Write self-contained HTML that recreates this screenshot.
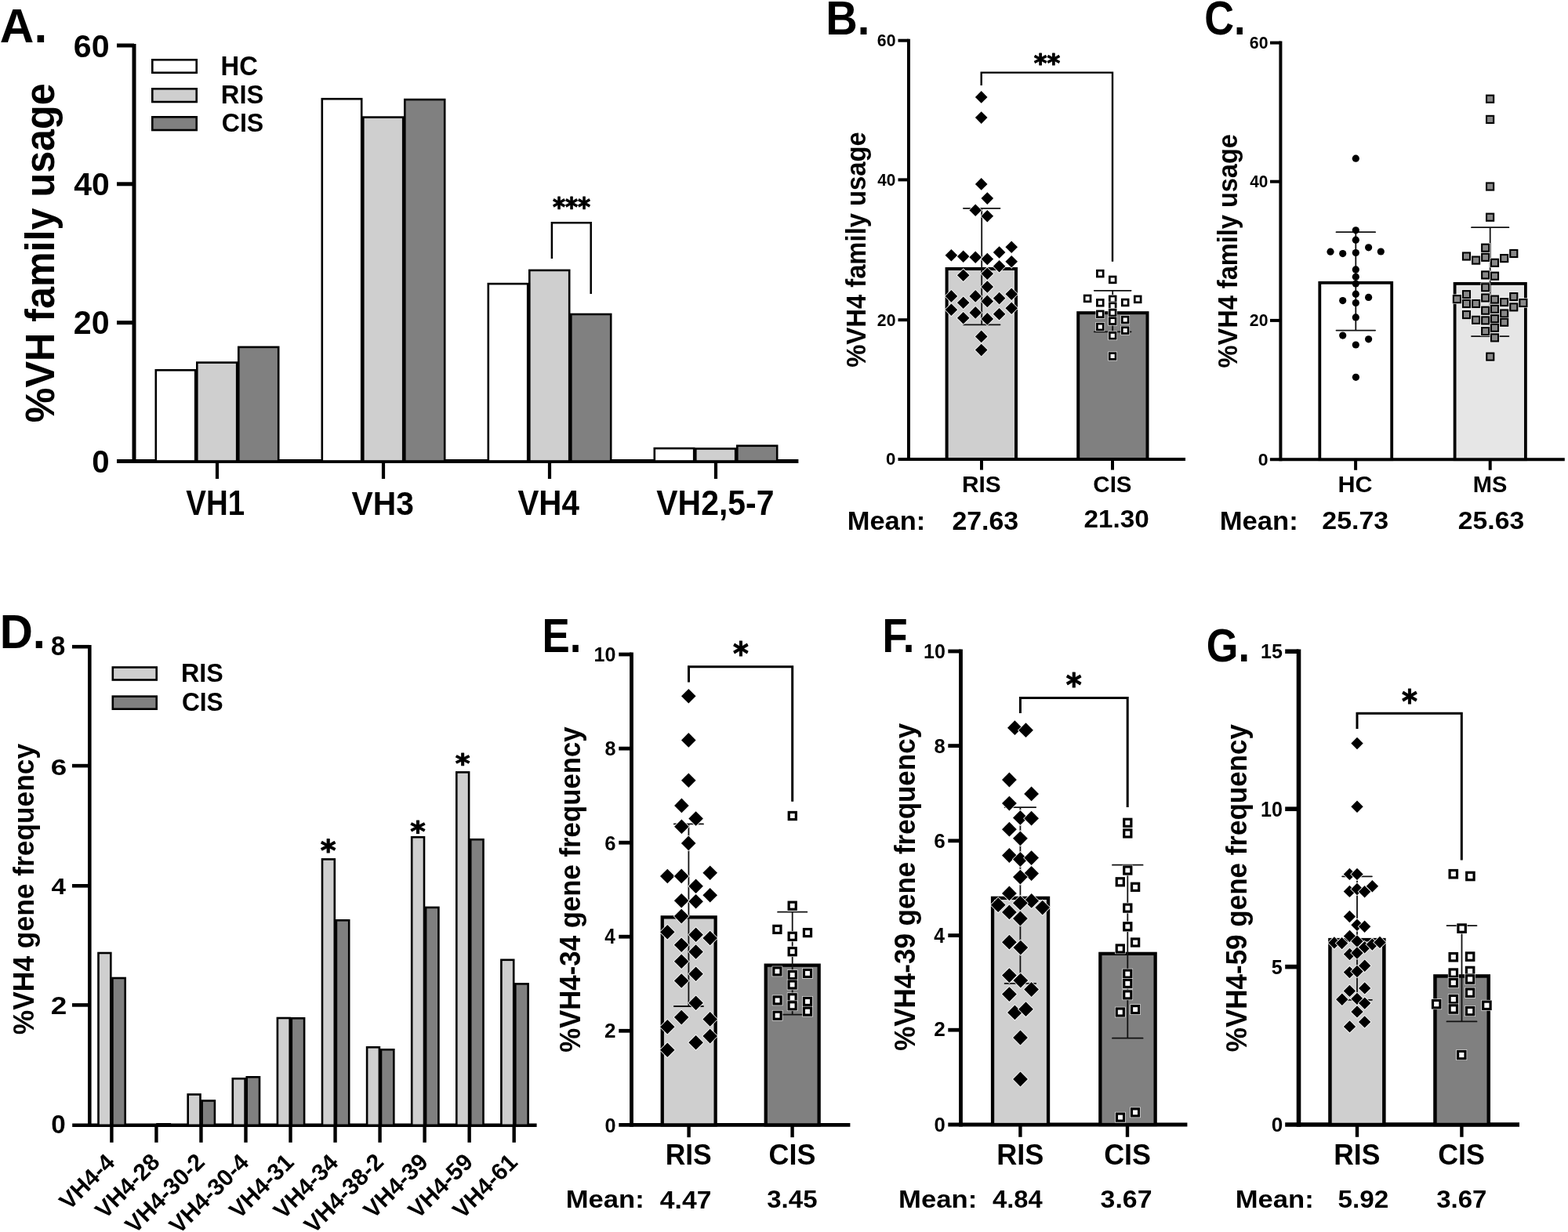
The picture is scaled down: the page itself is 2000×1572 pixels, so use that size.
<!DOCTYPE html>
<html><head><meta charset="utf-8"><title>VH4 family usage figure</title>
<style>
html,body{margin:0;padding:0;background:#fff;}
svg{display:block;}
text{font-family:'Liberation Sans',Arial,sans-serif;font-weight:bold;}
</style></head>
<body>
<svg xmlns="http://www.w3.org/2000/svg" width="2000" height="1572" viewBox="0 0 2000 1572">
<rect x="0" y="0" width="2000" height="1572" fill="#fff"/>
<line x1="171.00" y1="56.00" x2="171.00" y2="590.70" stroke="#000" stroke-width="5.00" stroke-linecap="butt"/>
<line x1="149.00" y1="58.00" x2="171.00" y2="58.00" stroke="#000" stroke-width="5.00" stroke-linecap="butt"/>
<line x1="149.00" y1="234.80" x2="171.00" y2="234.80" stroke="#000" stroke-width="5.00" stroke-linecap="butt"/>
<line x1="149.00" y1="411.70" x2="171.00" y2="411.70" stroke="#000" stroke-width="5.00" stroke-linecap="butt"/>
<line x1="149.00" y1="588.50" x2="1018.40" y2="588.50" stroke="#000" stroke-width="5.00" stroke-linecap="butt"/>
<line x1="277.00" y1="588.50" x2="277.00" y2="611.00" stroke="#000" stroke-width="4.20" stroke-linecap="butt"/>
<line x1="489.00" y1="588.50" x2="489.00" y2="611.00" stroke="#000" stroke-width="4.20" stroke-linecap="butt"/>
<line x1="701.00" y1="588.50" x2="701.00" y2="611.00" stroke="#000" stroke-width="4.20" stroke-linecap="butt"/>
<line x1="913.00" y1="588.50" x2="913.00" y2="611.00" stroke="#000" stroke-width="4.20" stroke-linecap="butt"/>
<rect x="198.80" y="472.30" width="50.40" height="116.20" fill="#fff" stroke="#000" stroke-width="2.60"/>
<rect x="251.30" y="462.60" width="50.90" height="125.90" fill="#cfcfcf" stroke="#000" stroke-width="2.60"/>
<rect x="304.30" y="442.90" width="50.90" height="145.60" fill="#808080" stroke="#000" stroke-width="2.60"/>
<rect x="410.80" y="126.20" width="50.40" height="462.30" fill="#fff" stroke="#000" stroke-width="2.60"/>
<rect x="463.30" y="149.60" width="50.90" height="438.90" fill="#cfcfcf" stroke="#000" stroke-width="2.60"/>
<rect x="516.30" y="127.05" width="50.90" height="461.45" fill="#808080" stroke="#000" stroke-width="2.60"/>
<rect x="622.80" y="362.10" width="50.40" height="226.40" fill="#fff" stroke="#000" stroke-width="2.60"/>
<rect x="675.30" y="344.90" width="50.90" height="243.60" fill="#cfcfcf" stroke="#000" stroke-width="2.60"/>
<rect x="728.30" y="401.00" width="50.90" height="187.50" fill="#808080" stroke="#000" stroke-width="2.60"/>
<rect x="834.80" y="572.10" width="50.40" height="16.40" fill="#fff" stroke="#000" stroke-width="2.60"/>
<rect x="887.30" y="572.50" width="50.90" height="16.00" fill="#cfcfcf" stroke="#000" stroke-width="2.60"/>
<rect x="940.30" y="568.80" width="50.90" height="19.70" fill="#808080" stroke="#000" stroke-width="2.60"/>
<rect x="194.30" y="76.30" width="56.40" height="16.45" fill="#fff" stroke="#000" stroke-width="2.60"/>
<rect x="194.30" y="113.30" width="56.40" height="16.70" fill="#cfcfcf" stroke="#000" stroke-width="2.60"/>
<rect x="194.30" y="149.30" width="56.40" height="16.70" fill="#808080" stroke="#000" stroke-width="2.60"/>
<text x="281.56" y="95.66" font-size="34.60" textLength="47.34" lengthAdjust="spacingAndGlyphs" fill="#000">HC</text>
<text x="281.81" y="132.17" font-size="33.54" textLength="54.46" lengthAdjust="spacingAndGlyphs" fill="#000">RIS</text>
<text x="282.68" y="168.42" font-size="33.54" textLength="53.57" lengthAdjust="spacingAndGlyphs" fill="#000">CIS</text>
<path d="M703.9 329.9 V284.3 H753.7 V375.1" fill="none" stroke="#000" stroke-width="2.50" stroke-linecap="butt" stroke-linejoin="miter"/>
<text style="font-family:'DejaVu Sans',sans-serif" stroke="#000" stroke-width="1.0" stroke-linejoin="round" x="704.98" y="275.55" font-size="34.03" textLength="48.23" lengthAdjust="spacingAndGlyphs" fill="#000">***</text>
<text x="93.89" y="72.60" font-size="40.96" textLength="45.80" lengthAdjust="spacingAndGlyphs" fill="#000">60</text>
<text x="94.18" y="248.99" font-size="41.52" textLength="45.50" lengthAdjust="spacingAndGlyphs" fill="#000">40</text>
<text x="93.87" y="426.09" font-size="41.67" textLength="45.82" lengthAdjust="spacingAndGlyphs" fill="#000">20</text>
<text x="117.31" y="602.60" font-size="40.96" textLength="22.34" lengthAdjust="spacingAndGlyphs" fill="#000">0</text>
<text x="237.24" y="657.00" font-size="43.61" textLength="74.83" lengthAdjust="spacingAndGlyphs" fill="#000">VH1</text>
<text x="448.52" y="657.02" font-size="42.99" textLength="79.35" lengthAdjust="spacingAndGlyphs" fill="#000">VH3</text>
<text x="660.42" y="657.00" font-size="43.61" textLength="78.49" lengthAdjust="spacingAndGlyphs" fill="#000">VH4</text>
<text x="837.32" y="657.00" font-size="44.04" textLength="150.08" lengthAdjust="spacingAndGlyphs" fill="#000">VH2,5-7</text>
<text transform="rotate(-90)" x="-539.25" y="69.40" font-size="51.00" textLength="432.97" lengthAdjust="spacingAndGlyphs" fill="#000">%VH family usage</text>
<text x="-0.20" y="54.00" font-size="61.05" textLength="60.36" lengthAdjust="spacingAndGlyphs" fill="#000">A.</text>
<line x1="1159.00" y1="49.70" x2="1159.00" y2="588.00" stroke="#000" stroke-width="4.00" stroke-linecap="butt"/>
<line x1="1145.50" y1="51.70" x2="1159.00" y2="51.70" stroke="#000" stroke-width="4.00" stroke-linecap="butt"/>
<line x1="1145.50" y1="229.40" x2="1159.00" y2="229.40" stroke="#000" stroke-width="4.00" stroke-linecap="butt"/>
<line x1="1145.50" y1="408.20" x2="1159.00" y2="408.20" stroke="#000" stroke-width="4.00" stroke-linecap="butt"/>
<line x1="1145.50" y1="586.00" x2="1512.00" y2="586.00" stroke="#000" stroke-width="4.00" stroke-linecap="butt"/>
<line x1="1252.00" y1="586.00" x2="1252.00" y2="599.60" stroke="#000" stroke-width="4.00" stroke-linecap="butt"/>
<line x1="1419.00" y1="586.00" x2="1419.00" y2="599.60" stroke="#000" stroke-width="4.00" stroke-linecap="butt"/>
<rect x="1207.60" y="343.00" width="88.40" height="243.00" fill="#cfcfcf" stroke="#000" stroke-width="4.00"/>
<rect x="1375.20" y="399.20" width="88.30" height="186.80" fill="#808080" stroke="#000" stroke-width="4.00"/>
<line x1="1252.20" y1="265.80" x2="1252.20" y2="414.30" stroke="#111" stroke-width="1.80" stroke-linecap="butt"/>
<line x1="1228.90" y1="265.80" x2="1275.50" y2="265.80" stroke="#111" stroke-width="1.80" stroke-linecap="round"/>
<line x1="1228.90" y1="414.30" x2="1275.50" y2="414.30" stroke="#111" stroke-width="1.80" stroke-linecap="round"/>
<polygon points="1251.70,116.10 1259.50,123.90 1251.70,131.70 1243.90,123.90" fill="#000" stroke="#fff" stroke-width="1.6" paint-order="stroke"/>
<polygon points="1251.70,142.30 1259.50,150.10 1251.70,157.90 1243.90,150.10" fill="#000" stroke="#fff" stroke-width="1.6" paint-order="stroke"/>
<polygon points="1251.70,227.10 1259.50,234.90 1251.70,242.70 1243.90,234.90" fill="#000" stroke="#fff" stroke-width="1.6" paint-order="stroke"/>
<polygon points="1259.30,245.30 1267.10,253.10 1259.30,260.90 1251.50,253.10" fill="#000" stroke="#fff" stroke-width="1.6" paint-order="stroke"/>
<polygon points="1244.20,260.40 1252.00,268.20 1244.20,276.00 1236.40,268.20" fill="#000" stroke="#fff" stroke-width="1.6" paint-order="stroke"/>
<polygon points="1259.30,267.90 1267.10,275.70 1259.30,283.50 1251.50,275.70" fill="#000" stroke="#fff" stroke-width="1.6" paint-order="stroke"/>
<polygon points="1213.40,318.00 1221.20,325.80 1213.40,333.60 1205.60,325.80" fill="#000" stroke="#fff" stroke-width="1.6" paint-order="stroke"/>
<polygon points="1228.70,319.40 1236.50,327.20 1228.70,335.00 1220.90,327.20" fill="#000" stroke="#fff" stroke-width="1.6" paint-order="stroke"/>
<polygon points="1244.20,320.50 1252.00,328.30 1244.20,336.10 1236.40,328.30" fill="#000" stroke="#fff" stroke-width="1.6" paint-order="stroke"/>
<polygon points="1259.30,322.70 1267.10,330.50 1259.30,338.30 1251.50,330.50" fill="#000" stroke="#fff" stroke-width="1.6" paint-order="stroke"/>
<polygon points="1274.60,314.20 1282.40,322.00 1274.60,329.80 1266.80,322.00" fill="#000" stroke="#fff" stroke-width="1.6" paint-order="stroke"/>
<polygon points="1290.20,307.50 1298.00,315.30 1290.20,323.10 1282.40,315.30" fill="#000" stroke="#fff" stroke-width="1.6" paint-order="stroke"/>
<polygon points="1290.20,326.00 1298.00,333.80 1290.20,341.60 1282.40,333.80" fill="#000" stroke="#fff" stroke-width="1.6" paint-order="stroke"/>
<polygon points="1274.60,332.00 1282.40,339.80 1274.60,347.60 1266.80,339.80" fill="#000" stroke="#fff" stroke-width="1.6" paint-order="stroke"/>
<polygon points="1228.70,343.40 1236.50,351.20 1228.70,359.00 1220.90,351.20" fill="#000" stroke="#fff" stroke-width="1.6" paint-order="stroke"/>
<polygon points="1259.30,341.50 1267.10,349.30 1259.30,357.10 1251.50,349.30" fill="#000" stroke="#fff" stroke-width="1.6" paint-order="stroke"/>
<polygon points="1259.30,358.20 1267.10,366.00 1259.30,373.80 1251.50,366.00" fill="#000" stroke="#fff" stroke-width="1.6" paint-order="stroke"/>
<polygon points="1213.40,370.10 1221.20,377.90 1213.40,385.70 1205.60,377.90" fill="#000" stroke="#fff" stroke-width="1.6" paint-order="stroke"/>
<polygon points="1244.20,370.10 1252.00,377.90 1244.20,385.70 1236.40,377.90" fill="#000" stroke="#fff" stroke-width="1.6" paint-order="stroke"/>
<polygon points="1274.60,372.80 1282.40,380.60 1274.60,388.40 1266.80,380.60" fill="#000" stroke="#fff" stroke-width="1.6" paint-order="stroke"/>
<polygon points="1290.20,367.50 1298.00,375.30 1290.20,383.10 1282.40,375.30" fill="#000" stroke="#fff" stroke-width="1.6" paint-order="stroke"/>
<polygon points="1228.70,378.40 1236.50,386.20 1228.70,394.00 1220.90,386.20" fill="#000" stroke="#fff" stroke-width="1.6" paint-order="stroke"/>
<polygon points="1259.30,376.60 1267.10,384.40 1259.30,392.20 1251.50,384.40" fill="#000" stroke="#fff" stroke-width="1.6" paint-order="stroke"/>
<polygon points="1213.40,387.50 1221.20,395.30 1213.40,403.10 1205.60,395.30" fill="#000" stroke="#fff" stroke-width="1.6" paint-order="stroke"/>
<polygon points="1244.20,391.10 1252.00,398.90 1244.20,406.70 1236.40,398.90" fill="#000" stroke="#fff" stroke-width="1.6" paint-order="stroke"/>
<polygon points="1274.60,393.00 1282.40,400.80 1274.60,408.60 1266.80,400.80" fill="#000" stroke="#fff" stroke-width="1.6" paint-order="stroke"/>
<polygon points="1290.20,385.40 1298.00,393.20 1290.20,401.00 1282.40,393.20" fill="#000" stroke="#fff" stroke-width="1.6" paint-order="stroke"/>
<polygon points="1228.70,398.00 1236.50,405.80 1228.70,413.60 1220.90,405.80" fill="#000" stroke="#fff" stroke-width="1.6" paint-order="stroke"/>
<polygon points="1259.30,399.10 1267.10,406.90 1259.30,414.70 1251.50,406.90" fill="#000" stroke="#fff" stroke-width="1.6" paint-order="stroke"/>
<polygon points="1251.70,421.60 1259.50,429.40 1251.70,437.20 1243.90,429.40" fill="#000" stroke="#fff" stroke-width="1.6" paint-order="stroke"/>
<polygon points="1251.70,438.80 1259.50,446.60 1251.70,454.40 1243.90,446.60" fill="#000" stroke="#fff" stroke-width="1.6" paint-order="stroke"/>
<line x1="1419.20" y1="370.80" x2="1419.20" y2="423.30" stroke="#111" stroke-width="1.80" stroke-linecap="butt"/>
<line x1="1395.80" y1="370.80" x2="1442.60" y2="370.80" stroke="#111" stroke-width="1.80" stroke-linecap="round"/>
<line x1="1395.80" y1="423.30" x2="1442.60" y2="423.30" stroke="#111" stroke-width="1.80" stroke-linecap="round"/>
<rect x="1397.45" y="343.25" width="11.70" height="11.70" fill="#fff"/>
<rect x="1399.40" y="345.20" width="7.80" height="7.80" fill="#fff" stroke="#000" stroke-width="2.70"/>
<rect x="1413.35" y="351.05" width="11.70" height="11.70" fill="#fff"/>
<rect x="1415.30" y="353.00" width="7.80" height="7.80" fill="#fff" stroke="#000" stroke-width="2.70"/>
<rect x="1381.25" y="375.05" width="11.70" height="11.70" fill="#fff"/>
<rect x="1383.20" y="377.00" width="7.80" height="7.80" fill="#fff" stroke="#000" stroke-width="2.70"/>
<rect x="1397.45" y="380.45" width="11.70" height="11.70" fill="#fff"/>
<rect x="1399.40" y="382.40" width="7.80" height="7.80" fill="#fff" stroke="#000" stroke-width="2.70"/>
<rect x="1413.35" y="376.05" width="11.70" height="11.70" fill="#fff"/>
<rect x="1415.30" y="378.00" width="7.80" height="7.80" fill="#fff" stroke="#000" stroke-width="2.70"/>
<rect x="1429.35" y="380.15" width="11.70" height="11.70" fill="#fff"/>
<rect x="1431.30" y="382.10" width="7.80" height="7.80" fill="#fff" stroke="#000" stroke-width="2.70"/>
<rect x="1445.35" y="376.05" width="11.70" height="11.70" fill="#fff"/>
<rect x="1447.30" y="378.00" width="7.80" height="7.80" fill="#fff" stroke="#000" stroke-width="2.70"/>
<rect x="1413.35" y="384.85" width="11.70" height="11.70" fill="#fff"/>
<rect x="1415.30" y="386.80" width="7.80" height="7.80" fill="#fff" stroke="#000" stroke-width="2.70"/>
<rect x="1413.35" y="393.25" width="11.70" height="11.70" fill="#fff"/>
<rect x="1415.30" y="395.20" width="7.80" height="7.80" fill="#fff" stroke="#000" stroke-width="2.70"/>
<rect x="1397.45" y="394.95" width="11.70" height="11.70" fill="#fff"/>
<rect x="1399.40" y="396.90" width="7.80" height="7.80" fill="#fff" stroke="#000" stroke-width="2.70"/>
<rect x="1413.35" y="403.75" width="11.70" height="11.70" fill="#fff"/>
<rect x="1415.30" y="405.70" width="7.80" height="7.80" fill="#fff" stroke="#000" stroke-width="2.70"/>
<rect x="1429.35" y="402.15" width="11.70" height="11.70" fill="#fff"/>
<rect x="1431.30" y="404.10" width="7.80" height="7.80" fill="#fff" stroke="#000" stroke-width="2.70"/>
<rect x="1397.45" y="411.15" width="11.70" height="11.70" fill="#fff"/>
<rect x="1399.40" y="413.10" width="7.80" height="7.80" fill="#fff" stroke="#000" stroke-width="2.70"/>
<rect x="1429.35" y="415.75" width="11.70" height="11.70" fill="#fff"/>
<rect x="1431.30" y="417.70" width="7.80" height="7.80" fill="#fff" stroke="#000" stroke-width="2.70"/>
<rect x="1413.35" y="422.45" width="11.70" height="11.70" fill="#fff"/>
<rect x="1415.30" y="424.40" width="7.80" height="7.80" fill="#fff" stroke="#000" stroke-width="2.70"/>
<rect x="1413.25" y="448.65" width="11.70" height="11.70" fill="#fff"/>
<rect x="1415.20" y="450.60" width="7.80" height="7.80" fill="#fff" stroke="#000" stroke-width="2.70"/>
<path d="M1251.7 109 V92.6 H1419 V333.8" fill="none" stroke="#000" stroke-width="2.40" stroke-linecap="butt" stroke-linejoin="miter"/>
<text style="font-family:'DejaVu Sans',sans-serif" stroke="#000" stroke-width="1.0" stroke-linejoin="round" x="1318.76" y="90.51" font-size="32.09" textLength="33.48" lengthAdjust="spacingAndGlyphs" fill="#000">**</text>
<text x="1118.82" y="59.09" font-size="21.75" textLength="23.65" lengthAdjust="spacingAndGlyphs" fill="#000">60</text>
<text x="1119.28" y="236.79" font-size="21.75" textLength="23.17" lengthAdjust="spacingAndGlyphs" fill="#000">40</text>
<text x="1118.86" y="415.59" font-size="21.75" textLength="23.61" lengthAdjust="spacingAndGlyphs" fill="#000">20</text>
<text x="1130.12" y="593.39" font-size="21.75" textLength="12.40" lengthAdjust="spacingAndGlyphs" fill="#000">0</text>
<text x="1227.00" y="628.12" font-size="28.81" textLength="49.76" lengthAdjust="spacingAndGlyphs" fill="#000">RIS</text>
<text x="1394.39" y="628.12" font-size="28.81" textLength="49.16" lengthAdjust="spacingAndGlyphs" fill="#000">CIS</text>
<text x="1080.69" y="675.68" font-size="32.96" textLength="99.62" lengthAdjust="spacingAndGlyphs" fill="#000">Mean:</text>
<text x="1214.43" y="675.64" font-size="32.42" textLength="84.80" lengthAdjust="spacingAndGlyphs" fill="#000">27.63</text>
<text x="1382.45" y="673.26" font-size="30.45" textLength="83.32" lengthAdjust="spacingAndGlyphs" fill="#000">21.30</text>
<text transform="rotate(-90)" x="-468.82" y="1103.50" font-size="35.00" textLength="300.64" lengthAdjust="spacingAndGlyphs" fill="#000">%VH4 family usage</text>
<text x="1053.25" y="43.70" font-size="60.90" textLength="56.12" lengthAdjust="spacingAndGlyphs" fill="#000">B.</text>
<line x1="1633.40" y1="52.60" x2="1633.40" y2="588.20" stroke="#000" stroke-width="4.00" stroke-linecap="butt"/>
<line x1="1620.00" y1="54.60" x2="1633.40" y2="54.60" stroke="#000" stroke-width="4.00" stroke-linecap="butt"/>
<line x1="1620.00" y1="231.70" x2="1633.40" y2="231.70" stroke="#000" stroke-width="4.00" stroke-linecap="butt"/>
<line x1="1620.00" y1="408.90" x2="1633.40" y2="408.90" stroke="#000" stroke-width="4.00" stroke-linecap="butt"/>
<line x1="1619.90" y1="586.20" x2="1995.80" y2="586.20" stroke="#000" stroke-width="4.00" stroke-linecap="butt"/>
<line x1="1729.10" y1="586.20" x2="1729.10" y2="599.80" stroke="#000" stroke-width="4.00" stroke-linecap="butt"/>
<line x1="1900.70" y1="586.20" x2="1900.70" y2="599.80" stroke="#000" stroke-width="4.00" stroke-linecap="butt"/>
<rect x="1683.30" y="360.80" width="91.90" height="225.40" fill="#fff" stroke="#000" stroke-width="3.80"/>
<rect x="1855.60" y="361.90" width="90.30" height="224.30" fill="#e6e6e6" stroke="#000" stroke-width="3.80"/>
<line x1="1729.30" y1="296.20" x2="1729.30" y2="421.60" stroke="#111" stroke-width="1.80" stroke-linecap="butt"/>
<line x1="1704.50" y1="296.20" x2="1754.10" y2="296.20" stroke="#111" stroke-width="1.80" stroke-linecap="round"/>
<line x1="1704.50" y1="421.60" x2="1754.10" y2="421.60" stroke="#111" stroke-width="1.80" stroke-linecap="round"/>
<circle cx="1729.30" cy="202.20" r="4.60" fill="#000"/>
<circle cx="1729.30" cy="293.80" r="4.60" fill="#000"/>
<circle cx="1729.30" cy="306.20" r="4.60" fill="#000"/>
<circle cx="1697.00" cy="321.20" r="4.60" fill="#000"/>
<circle cx="1712.70" cy="323.60" r="4.60" fill="#000"/>
<circle cx="1729.30" cy="322.50" r="4.60" fill="#000"/>
<circle cx="1745.60" cy="315.80" r="4.60" fill="#000"/>
<circle cx="1761.30" cy="321.00" r="4.60" fill="#000"/>
<circle cx="1729.30" cy="343.90" r="4.60" fill="#000"/>
<circle cx="1729.30" cy="353.20" r="4.60" fill="#000"/>
<circle cx="1729.30" cy="362.00" r="4.60" fill="#000"/>
<circle cx="1729.30" cy="375.20" r="4.60" fill="#000"/>
<circle cx="1745.60" cy="379.40" r="4.60" fill="#000"/>
<circle cx="1712.70" cy="383.60" r="4.60" fill="#000"/>
<circle cx="1729.30" cy="386.50" r="4.60" fill="#000"/>
<circle cx="1729.30" cy="404.90" r="4.60" fill="#000"/>
<circle cx="1712.70" cy="428.10" r="4.60" fill="#000"/>
<circle cx="1745.60" cy="432.80" r="4.60" fill="#000"/>
<circle cx="1729.30" cy="440.00" r="4.60" fill="#000"/>
<circle cx="1729.40" cy="481.30" r="4.60" fill="#000"/>
<line x1="1900.70" y1="290.20" x2="1900.70" y2="429.10" stroke="#111" stroke-width="1.80" stroke-linecap="butt"/>
<line x1="1877.00" y1="290.20" x2="1924.40" y2="290.20" stroke="#111" stroke-width="1.80" stroke-linecap="round"/>
<line x1="1877.00" y1="429.10" x2="1924.40" y2="429.10" stroke="#111" stroke-width="1.80" stroke-linecap="round"/>
<rect x="1894.40" y="120.00" width="12.40" height="12.40" fill="#fff"/>
<rect x="1896.05" y="121.65" width="9.10" height="9.10" fill="#888888" stroke="#000" stroke-width="2.10"/>
<rect x="1894.40" y="146.20" width="12.40" height="12.40" fill="#fff"/>
<rect x="1896.05" y="147.85" width="9.10" height="9.10" fill="#888888" stroke="#000" stroke-width="2.10"/>
<rect x="1894.40" y="231.80" width="12.40" height="12.40" fill="#fff"/>
<rect x="1896.05" y="233.45" width="9.10" height="9.10" fill="#888888" stroke="#000" stroke-width="2.10"/>
<rect x="1894.40" y="271.00" width="12.40" height="12.40" fill="#fff"/>
<rect x="1896.05" y="272.65" width="9.10" height="9.10" fill="#888888" stroke="#000" stroke-width="2.10"/>
<rect x="1888.50" y="310.00" width="12.40" height="12.40" fill="#fff"/>
<rect x="1890.15" y="311.65" width="9.10" height="9.10" fill="#888888" stroke="#000" stroke-width="2.10"/>
<rect x="1864.30" y="320.80" width="12.40" height="12.40" fill="#fff"/>
<rect x="1865.95" y="322.45" width="9.10" height="9.10" fill="#888888" stroke="#000" stroke-width="2.10"/>
<rect x="1876.40" y="325.90" width="12.40" height="12.40" fill="#fff"/>
<rect x="1878.05" y="327.55" width="9.10" height="9.10" fill="#888888" stroke="#000" stroke-width="2.10"/>
<rect x="1888.50" y="322.10" width="12.40" height="12.40" fill="#fff"/>
<rect x="1890.15" y="323.75" width="9.10" height="9.10" fill="#888888" stroke="#000" stroke-width="2.10"/>
<rect x="1900.30" y="329.10" width="12.40" height="12.40" fill="#fff"/>
<rect x="1901.95" y="330.75" width="9.10" height="9.10" fill="#888888" stroke="#000" stroke-width="2.10"/>
<rect x="1912.50" y="323.40" width="12.40" height="12.40" fill="#fff"/>
<rect x="1914.15" y="325.05" width="9.10" height="9.10" fill="#888888" stroke="#000" stroke-width="2.10"/>
<rect x="1924.60" y="317.30" width="12.40" height="12.40" fill="#fff"/>
<rect x="1926.25" y="318.95" width="9.10" height="9.10" fill="#888888" stroke="#000" stroke-width="2.10"/>
<rect x="1888.50" y="344.70" width="12.40" height="12.40" fill="#fff"/>
<rect x="1890.15" y="346.35" width="9.10" height="9.10" fill="#888888" stroke="#000" stroke-width="2.10"/>
<rect x="1900.30" y="346.00" width="12.40" height="12.40" fill="#fff"/>
<rect x="1901.95" y="347.65" width="9.10" height="9.10" fill="#888888" stroke="#000" stroke-width="2.10"/>
<rect x="1888.50" y="360.60" width="12.40" height="12.40" fill="#fff"/>
<rect x="1890.15" y="362.25" width="9.10" height="9.10" fill="#888888" stroke="#000" stroke-width="2.10"/>
<rect x="1864.30" y="369.50" width="12.40" height="12.40" fill="#fff"/>
<rect x="1865.95" y="371.15" width="9.10" height="9.10" fill="#888888" stroke="#000" stroke-width="2.10"/>
<rect x="1852.20" y="375.50" width="12.40" height="12.40" fill="#fff"/>
<rect x="1853.85" y="377.15" width="9.10" height="9.10" fill="#888888" stroke="#000" stroke-width="2.10"/>
<rect x="1888.50" y="373.80" width="12.40" height="12.40" fill="#fff"/>
<rect x="1890.15" y="375.45" width="9.10" height="9.10" fill="#888888" stroke="#000" stroke-width="2.10"/>
<rect x="1900.30" y="375.90" width="12.40" height="12.40" fill="#fff"/>
<rect x="1901.95" y="377.55" width="9.10" height="9.10" fill="#888888" stroke="#000" stroke-width="2.10"/>
<rect x="1912.50" y="379.40" width="12.40" height="12.40" fill="#fff"/>
<rect x="1914.15" y="381.05" width="9.10" height="9.10" fill="#888888" stroke="#000" stroke-width="2.10"/>
<rect x="1924.60" y="372.40" width="12.40" height="12.40" fill="#fff"/>
<rect x="1926.25" y="374.05" width="9.10" height="9.10" fill="#888888" stroke="#000" stroke-width="2.10"/>
<rect x="1936.70" y="380.30" width="12.40" height="12.40" fill="#fff"/>
<rect x="1938.35" y="381.95" width="9.10" height="9.10" fill="#888888" stroke="#000" stroke-width="2.10"/>
<rect x="1864.30" y="381.30" width="12.40" height="12.40" fill="#fff"/>
<rect x="1865.95" y="382.95" width="9.10" height="9.10" fill="#888888" stroke="#000" stroke-width="2.10"/>
<rect x="1876.40" y="381.30" width="12.40" height="12.40" fill="#fff"/>
<rect x="1878.05" y="382.95" width="9.10" height="9.10" fill="#888888" stroke="#000" stroke-width="2.10"/>
<rect x="1924.60" y="385.70" width="12.40" height="12.40" fill="#fff"/>
<rect x="1926.25" y="387.35" width="9.10" height="9.10" fill="#888888" stroke="#000" stroke-width="2.10"/>
<rect x="1900.30" y="388.10" width="12.40" height="12.40" fill="#fff"/>
<rect x="1901.95" y="389.75" width="9.10" height="9.10" fill="#888888" stroke="#000" stroke-width="2.10"/>
<rect x="1888.50" y="390.00" width="12.40" height="12.40" fill="#fff"/>
<rect x="1890.15" y="391.65" width="9.10" height="9.10" fill="#888888" stroke="#000" stroke-width="2.10"/>
<rect x="1912.50" y="393.80" width="12.40" height="12.40" fill="#fff"/>
<rect x="1914.15" y="395.45" width="9.10" height="9.10" fill="#888888" stroke="#000" stroke-width="2.10"/>
<rect x="1864.30" y="395.40" width="12.40" height="12.40" fill="#fff"/>
<rect x="1865.95" y="397.05" width="9.10" height="9.10" fill="#888888" stroke="#000" stroke-width="2.10"/>
<rect x="1900.30" y="400.50" width="12.40" height="12.40" fill="#fff"/>
<rect x="1901.95" y="402.15" width="9.10" height="9.10" fill="#888888" stroke="#000" stroke-width="2.10"/>
<rect x="1876.40" y="402.10" width="12.40" height="12.40" fill="#fff"/>
<rect x="1878.05" y="403.75" width="9.10" height="9.10" fill="#888888" stroke="#000" stroke-width="2.10"/>
<rect x="1888.50" y="402.70" width="12.40" height="12.40" fill="#fff"/>
<rect x="1890.15" y="404.35" width="9.10" height="9.10" fill="#888888" stroke="#000" stroke-width="2.10"/>
<rect x="1912.50" y="405.00" width="12.40" height="12.40" fill="#fff"/>
<rect x="1914.15" y="406.65" width="9.10" height="9.10" fill="#888888" stroke="#000" stroke-width="2.10"/>
<rect x="1900.30" y="412.00" width="12.40" height="12.40" fill="#fff"/>
<rect x="1901.95" y="413.65" width="9.10" height="9.10" fill="#888888" stroke="#000" stroke-width="2.10"/>
<rect x="1888.50" y="416.40" width="12.40" height="12.40" fill="#fff"/>
<rect x="1890.15" y="418.05" width="9.10" height="9.10" fill="#888888" stroke="#000" stroke-width="2.10"/>
<rect x="1900.30" y="424.70" width="12.40" height="12.40" fill="#fff"/>
<rect x="1901.95" y="426.35" width="9.10" height="9.10" fill="#888888" stroke="#000" stroke-width="2.10"/>
<rect x="1894.60" y="448.90" width="12.40" height="12.40" fill="#fff"/>
<rect x="1896.25" y="450.55" width="9.10" height="9.10" fill="#888888" stroke="#000" stroke-width="2.10"/>
<text x="1593.82" y="62.09" font-size="21.75" textLength="23.65" lengthAdjust="spacingAndGlyphs" fill="#000">60</text>
<text x="1594.28" y="239.19" font-size="21.75" textLength="23.17" lengthAdjust="spacingAndGlyphs" fill="#000">40</text>
<text x="1593.86" y="416.39" font-size="21.75" textLength="23.61" lengthAdjust="spacingAndGlyphs" fill="#000">20</text>
<text x="1604.69" y="593.69" font-size="21.75" textLength="12.86" lengthAdjust="spacingAndGlyphs" fill="#000">0</text>
<text x="1706.46" y="628.30" font-size="30.23" textLength="44.08" lengthAdjust="spacingAndGlyphs" fill="#000">HC</text>
<text x="1878.76" y="628.30" font-size="30.23" textLength="43.58" lengthAdjust="spacingAndGlyphs" fill="#000">MS</text>
<text x="1555.68" y="675.68" font-size="32.96" textLength="100.05" lengthAdjust="spacingAndGlyphs" fill="#000">Mean:</text>
<text x="1686.32" y="675.05" font-size="31.01" textLength="84.90" lengthAdjust="spacingAndGlyphs" fill="#000">25.73</text>
<text x="1859.83" y="675.05" font-size="31.01" textLength="84.28" lengthAdjust="spacingAndGlyphs" fill="#000">25.63</text>
<text transform="rotate(-90)" x="-469.41" y="1578.30" font-size="35.00" textLength="298.32" lengthAdjust="spacingAndGlyphs" fill="#000">%VH4 family usage</text>
<text x="1536.25" y="43.70" font-size="61.02" textLength="52.35" lengthAdjust="spacingAndGlyphs" fill="#000">C.</text>
<line x1="114.30" y1="823.00" x2="114.30" y2="1438.00" stroke="#000" stroke-width="4.60" stroke-linecap="butt"/>
<line x1="92.00" y1="825.20" x2="114.30" y2="825.20" stroke="#000" stroke-width="4.60" stroke-linecap="butt"/>
<line x1="92.00" y1="977.10" x2="114.30" y2="977.10" stroke="#000" stroke-width="4.60" stroke-linecap="butt"/>
<line x1="92.00" y1="1130.30" x2="114.30" y2="1130.30" stroke="#000" stroke-width="4.60" stroke-linecap="butt"/>
<line x1="92.00" y1="1282.40" x2="114.30" y2="1282.40" stroke="#000" stroke-width="4.60" stroke-linecap="butt"/>
<line x1="92.20" y1="1435.80" x2="684.60" y2="1435.80" stroke="#000" stroke-width="4.60" stroke-linecap="butt"/>
<line x1="142.40" y1="1435.80" x2="142.40" y2="1457.80" stroke="#000" stroke-width="4.40" stroke-linecap="butt"/>
<line x1="199.43" y1="1435.80" x2="199.43" y2="1457.80" stroke="#000" stroke-width="4.40" stroke-linecap="butt"/>
<line x1="256.46" y1="1435.80" x2="256.46" y2="1457.80" stroke="#000" stroke-width="4.40" stroke-linecap="butt"/>
<line x1="313.49" y1="1435.80" x2="313.49" y2="1457.80" stroke="#000" stroke-width="4.40" stroke-linecap="butt"/>
<line x1="370.52" y1="1435.80" x2="370.52" y2="1457.80" stroke="#000" stroke-width="4.40" stroke-linecap="butt"/>
<line x1="427.55" y1="1435.80" x2="427.55" y2="1457.80" stroke="#000" stroke-width="4.40" stroke-linecap="butt"/>
<line x1="484.58" y1="1435.80" x2="484.58" y2="1457.80" stroke="#000" stroke-width="4.40" stroke-linecap="butt"/>
<line x1="541.61" y1="1435.80" x2="541.61" y2="1457.80" stroke="#000" stroke-width="4.40" stroke-linecap="butt"/>
<line x1="598.64" y1="1435.80" x2="598.64" y2="1457.80" stroke="#000" stroke-width="4.40" stroke-linecap="butt"/>
<line x1="655.67" y1="1435.80" x2="655.67" y2="1457.80" stroke="#000" stroke-width="4.40" stroke-linecap="butt"/>
<rect x="125.50" y="1216.00" width="15.80" height="219.80" fill="#cfcfcf" stroke="#000" stroke-width="2.60"/>
<rect x="143.40" y="1248.00" width="16.30" height="187.80" fill="#808080" stroke="#000" stroke-width="2.60"/>
<rect x="200.50" y="1434.30" width="16.30" height="1.50" fill="#808080" stroke="#000" stroke-width="2.60"/>
<rect x="239.70" y="1396.50" width="15.80" height="39.30" fill="#cfcfcf" stroke="#000" stroke-width="2.60"/>
<rect x="257.60" y="1404.50" width="16.30" height="31.30" fill="#808080" stroke="#000" stroke-width="2.60"/>
<rect x="296.80" y="1376.30" width="15.80" height="59.50" fill="#cfcfcf" stroke="#000" stroke-width="2.60"/>
<rect x="314.70" y="1374.30" width="16.30" height="61.50" fill="#808080" stroke="#000" stroke-width="2.60"/>
<rect x="353.90" y="1299.00" width="15.80" height="136.80" fill="#cfcfcf" stroke="#000" stroke-width="2.60"/>
<rect x="371.80" y="1299.30" width="16.30" height="136.50" fill="#808080" stroke="#000" stroke-width="2.60"/>
<rect x="411.00" y="1096.40" width="15.80" height="339.40" fill="#cfcfcf" stroke="#000" stroke-width="2.60"/>
<rect x="428.90" y="1174.30" width="16.30" height="261.50" fill="#808080" stroke="#000" stroke-width="2.60"/>
<rect x="468.10" y="1336.30" width="15.80" height="99.50" fill="#cfcfcf" stroke="#000" stroke-width="2.60"/>
<rect x="486.00" y="1339.30" width="16.30" height="96.50" fill="#808080" stroke="#000" stroke-width="2.60"/>
<rect x="525.20" y="1068.20" width="15.80" height="367.60" fill="#cfcfcf" stroke="#000" stroke-width="2.60"/>
<rect x="543.10" y="1157.90" width="16.30" height="277.90" fill="#808080" stroke="#000" stroke-width="2.60"/>
<rect x="582.30" y="985.40" width="15.80" height="450.40" fill="#cfcfcf" stroke="#000" stroke-width="2.60"/>
<rect x="600.20" y="1071.20" width="16.30" height="364.60" fill="#808080" stroke="#000" stroke-width="2.60"/>
<rect x="639.40" y="1224.80" width="15.80" height="211.00" fill="#cfcfcf" stroke="#000" stroke-width="2.60"/>
<rect x="657.30" y="1255.40" width="16.30" height="180.40" fill="#808080" stroke="#000" stroke-width="2.60"/>
<rect x="143.80" y="851.50" width="55.90" height="16.00" fill="#cfcfcf" stroke="#000" stroke-width="2.60"/>
<rect x="143.80" y="888.60" width="55.90" height="16.10" fill="#808080" stroke="#000" stroke-width="2.60"/>
<text x="231.04" y="870.17" font-size="33.47" textLength="53.71" lengthAdjust="spacingAndGlyphs" fill="#000">RIS</text>
<text x="231.90" y="907.27" font-size="33.33" textLength="52.84" lengthAdjust="spacingAndGlyphs" fill="#000">CIS</text>
<text style="font-family:'DejaVu Sans',sans-serif" stroke="#000" stroke-width="1.0" stroke-linejoin="round" x="408.74" y="1098.35" font-size="37.26" textLength="19.82" lengthAdjust="spacingAndGlyphs" fill="#000">*</text>
<text style="font-family:'DejaVu Sans',sans-serif" stroke="#000" stroke-width="1.0" stroke-linejoin="round" x="523.25" y="1072.99" font-size="35.96" textLength="19.49" lengthAdjust="spacingAndGlyphs" fill="#000">*</text>
<text style="font-family:'DejaVu Sans',sans-serif" stroke="#000" stroke-width="1.0" stroke-linejoin="round" x="580.68" y="986.37" font-size="34.46" textLength="18.84" lengthAdjust="spacingAndGlyphs" fill="#000">*</text>
<text x="64.96" y="836.26" font-size="34.75" textLength="18.25" lengthAdjust="spacingAndGlyphs" fill="#000">8</text>
<text x="64.65" y="988.71" font-size="29.38" textLength="20.48" lengthAdjust="spacingAndGlyphs" fill="#000">6</text>
<text x="65.50" y="1141.20" font-size="29.65" textLength="18.48" lengthAdjust="spacingAndGlyphs" fill="#000">4</text>
<text x="64.72" y="1293.90" font-size="31.08" textLength="20.56" lengthAdjust="spacingAndGlyphs" fill="#000">2</text>
<text x="65.39" y="1446.38" font-size="32.77" textLength="18.48" lengthAdjust="spacingAndGlyphs" fill="#000">0</text>
<text transform="rotate(-90)" x="-1320.18" y="43.10" font-size="37.00" textLength="371.37" lengthAdjust="spacingAndGlyphs" fill="#000">%VH4 gene frequency</text>
<text x="-0.30" y="827.30" font-size="61.48" textLength="58.32" lengthAdjust="spacingAndGlyphs" fill="#000">D.</text>
<text transform="translate(147.90,1485.20) rotate(-45)" x="-84.87" y="0" font-size="30">VH4-4</text>
<text transform="translate(204.93,1485.20) rotate(-45)" x="-100.80" y="0" font-size="30">VH4-28</text>
<text transform="translate(261.96,1485.20) rotate(-45)" x="-127.19" y="0" font-size="30">VH4-30-2</text>
<text transform="translate(318.99,1485.20) rotate(-45)" x="-128.23" y="0" font-size="30">VH4-30-4</text>
<text transform="translate(376.02,1485.20) rotate(-45)" x="-100.88" y="0" font-size="30">VH4-31</text>
<text transform="translate(433.05,1485.20) rotate(-45)" x="-101.56" y="0" font-size="30">VH4-34</text>
<text transform="translate(490.08,1485.20) rotate(-45)" x="-127.19" y="0" font-size="30">VH4-38-2</text>
<text transform="translate(547.11,1485.20) rotate(-45)" x="-100.61" y="0" font-size="30">VH4-39</text>
<text transform="translate(604.14,1485.20) rotate(-45)" x="-100.61" y="0" font-size="30">VH4-59</text>
<text transform="translate(661.17,1485.20) rotate(-45)" x="-100.88" y="0" font-size="30">VH4-61</text>
<line x1="805.50" y1="832.60" x2="805.50" y2="1437.80" stroke="#000" stroke-width="4.80" stroke-linecap="butt"/>
<line x1="789.30" y1="835.00" x2="805.50" y2="835.00" stroke="#000" stroke-width="4.80" stroke-linecap="butt"/>
<line x1="789.30" y1="955.10" x2="805.50" y2="955.10" stroke="#000" stroke-width="4.80" stroke-linecap="butt"/>
<line x1="789.30" y1="1075.20" x2="805.50" y2="1075.20" stroke="#000" stroke-width="4.80" stroke-linecap="butt"/>
<line x1="789.30" y1="1195.20" x2="805.50" y2="1195.20" stroke="#000" stroke-width="4.80" stroke-linecap="butt"/>
<line x1="789.30" y1="1315.30" x2="805.50" y2="1315.30" stroke="#000" stroke-width="4.80" stroke-linecap="butt"/>
<line x1="789.30" y1="1435.40" x2="1084.40" y2="1435.40" stroke="#000" stroke-width="4.80" stroke-linecap="butt"/>
<line x1="878.60" y1="1435.40" x2="878.60" y2="1451.20" stroke="#000" stroke-width="4.40" stroke-linecap="butt"/>
<line x1="1010.60" y1="1435.40" x2="1010.60" y2="1451.20" stroke="#000" stroke-width="4.40" stroke-linecap="butt"/>
<rect x="844.75" y="1170.35" width="67.90" height="265.05" fill="#cfcfcf" stroke="#000" stroke-width="4.30"/>
<rect x="976.75" y="1231.65" width="67.90" height="203.75" fill="#808080" stroke="#000" stroke-width="4.30"/>
<line x1="878.40" y1="1051.40" x2="878.40" y2="1284.00" stroke="#111" stroke-width="1.80" stroke-linecap="butt"/>
<line x1="859.80" y1="1051.40" x2="897.00" y2="1051.40" stroke="#111" stroke-width="1.80" stroke-linecap="round"/>
<line x1="859.80" y1="1284.00" x2="897.00" y2="1284.00" stroke="#111" stroke-width="1.80" stroke-linecap="round"/>
<polygon points="878.30,878.90 887.60,888.20 878.30,897.50 869.00,888.20" fill="#000" stroke="#fff" stroke-width="1.6" paint-order="stroke"/>
<polygon points="878.30,935.10 887.60,944.40 878.30,953.70 869.00,944.40" fill="#000" stroke="#fff" stroke-width="1.6" paint-order="stroke"/>
<polygon points="878.30,986.40 887.60,995.70 878.30,1005.00 869.00,995.70" fill="#000" stroke="#fff" stroke-width="1.6" paint-order="stroke"/>
<polygon points="869.40,1018.60 878.70,1027.90 869.40,1037.20 860.10,1027.90" fill="#000" stroke="#fff" stroke-width="1.6" paint-order="stroke"/>
<polygon points="887.60,1035.20 896.90,1044.50 887.60,1053.80 878.30,1044.50" fill="#000" stroke="#fff" stroke-width="1.6" paint-order="stroke"/>
<polygon points="869.40,1045.40 878.70,1054.70 869.40,1064.00 860.10,1054.70" fill="#000" stroke="#fff" stroke-width="1.6" paint-order="stroke"/>
<polygon points="878.20,1066.60 887.50,1075.90 878.20,1085.20 868.90,1075.90" fill="#000" stroke="#fff" stroke-width="1.6" paint-order="stroke"/>
<polygon points="851.30,1108.70 860.60,1118.00 851.30,1127.30 842.00,1118.00" fill="#000" stroke="#fff" stroke-width="1.6" paint-order="stroke"/>
<polygon points="869.20,1108.60 878.50,1117.90 869.20,1127.20 859.90,1117.90" fill="#000" stroke="#fff" stroke-width="1.6" paint-order="stroke"/>
<polygon points="905.70,1104.40 915.00,1113.70 905.70,1123.00 896.40,1113.70" fill="#000" stroke="#fff" stroke-width="1.6" paint-order="stroke"/>
<polygon points="887.60,1121.50 896.90,1130.80 887.60,1140.10 878.30,1130.80" fill="#000" stroke="#fff" stroke-width="1.6" paint-order="stroke"/>
<polygon points="905.70,1133.00 915.00,1142.30 905.70,1151.60 896.40,1142.30" fill="#000" stroke="#fff" stroke-width="1.6" paint-order="stroke"/>
<polygon points="869.20,1139.90 878.50,1149.20 869.20,1158.50 859.90,1149.20" fill="#000" stroke="#fff" stroke-width="1.6" paint-order="stroke"/>
<polygon points="887.60,1141.00 896.90,1150.30 887.60,1159.60 878.30,1150.30" fill="#000" stroke="#fff" stroke-width="1.6" paint-order="stroke"/>
<polygon points="869.20,1159.80 878.50,1169.10 869.20,1178.40 859.90,1169.10" fill="#000" stroke="#fff" stroke-width="1.6" paint-order="stroke"/>
<polygon points="851.30,1180.00 860.60,1189.30 851.30,1198.60 842.00,1189.30" fill="#000" stroke="#fff" stroke-width="1.6" paint-order="stroke"/>
<polygon points="887.60,1183.40 896.90,1192.70 887.60,1202.00 878.30,1192.70" fill="#000" stroke="#fff" stroke-width="1.6" paint-order="stroke"/>
<polygon points="905.70,1187.70 915.00,1197.00 905.70,1206.30 896.40,1197.00" fill="#000" stroke="#fff" stroke-width="1.6" paint-order="stroke"/>
<polygon points="869.20,1196.40 878.50,1205.70 869.20,1215.00 859.90,1205.70" fill="#000" stroke="#fff" stroke-width="1.6" paint-order="stroke"/>
<polygon points="887.60,1205.20 896.90,1214.50 887.60,1223.80 878.30,1214.50" fill="#000" stroke="#fff" stroke-width="1.6" paint-order="stroke"/>
<polygon points="869.20,1217.40 878.50,1226.70 869.20,1236.00 859.90,1226.70" fill="#000" stroke="#fff" stroke-width="1.6" paint-order="stroke"/>
<polygon points="887.60,1233.40 896.90,1242.70 887.60,1252.00 878.30,1242.70" fill="#000" stroke="#fff" stroke-width="1.6" paint-order="stroke"/>
<polygon points="869.20,1242.20 878.50,1251.50 869.20,1260.80 859.90,1251.50" fill="#000" stroke="#fff" stroke-width="1.6" paint-order="stroke"/>
<polygon points="887.60,1270.50 896.90,1279.80 887.60,1289.10 878.30,1279.80" fill="#000" stroke="#fff" stroke-width="1.6" paint-order="stroke"/>
<polygon points="869.20,1288.80 878.50,1298.10 869.20,1307.40 859.90,1298.10" fill="#000" stroke="#fff" stroke-width="1.6" paint-order="stroke"/>
<polygon points="905.70,1291.10 915.00,1300.40 905.70,1309.70 896.40,1300.40" fill="#000" stroke="#fff" stroke-width="1.6" paint-order="stroke"/>
<polygon points="851.30,1301.00 860.60,1310.30 851.30,1319.60 842.00,1310.30" fill="#000" stroke="#fff" stroke-width="1.6" paint-order="stroke"/>
<polygon points="905.70,1312.80 915.00,1322.10 905.70,1331.40 896.40,1322.10" fill="#000" stroke="#fff" stroke-width="1.6" paint-order="stroke"/>
<polygon points="887.60,1320.90 896.90,1330.20 887.60,1339.50 878.30,1330.20" fill="#000" stroke="#fff" stroke-width="1.6" paint-order="stroke"/>
<polygon points="851.30,1330.40 860.60,1339.70 851.30,1349.00 842.00,1339.70" fill="#000" stroke="#fff" stroke-width="1.6" paint-order="stroke"/>
<line x1="1010.70" y1="1163.70" x2="1010.70" y2="1294.70" stroke="#111" stroke-width="1.80" stroke-linecap="butt"/>
<line x1="992.10" y1="1163.70" x2="1029.30" y2="1163.70" stroke="#111" stroke-width="1.80" stroke-linecap="round"/>
<line x1="992.10" y1="1294.70" x2="1029.30" y2="1294.70" stroke="#111" stroke-width="1.80" stroke-linecap="round"/>
<rect x="1004.05" y="1034.25" width="13.50" height="13.50" fill="#fff"/>
<rect x="1006.25" y="1036.45" width="9.10" height="9.10" fill="#fff" stroke="#000" stroke-width="3.20"/>
<rect x="1003.95" y="1148.95" width="13.50" height="13.50" fill="#fff"/>
<rect x="1006.15" y="1151.15" width="9.10" height="9.10" fill="#fff" stroke="#000" stroke-width="3.20"/>
<rect x="984.65" y="1179.15" width="13.50" height="13.50" fill="#fff"/>
<rect x="986.85" y="1181.35" width="9.10" height="9.10" fill="#fff" stroke="#000" stroke-width="3.20"/>
<rect x="1023.25" y="1183.35" width="13.50" height="13.50" fill="#fff"/>
<rect x="1025.45" y="1185.55" width="9.10" height="9.10" fill="#fff" stroke="#000" stroke-width="3.20"/>
<rect x="1003.95" y="1188.05" width="13.50" height="13.50" fill="#fff"/>
<rect x="1006.15" y="1190.25" width="9.10" height="9.10" fill="#fff" stroke="#000" stroke-width="3.20"/>
<rect x="1003.95" y="1207.45" width="13.50" height="13.50" fill="#fff"/>
<rect x="1006.15" y="1209.65" width="9.10" height="9.10" fill="#fff" stroke="#000" stroke-width="3.20"/>
<rect x="984.65" y="1232.65" width="13.50" height="13.50" fill="#fff"/>
<rect x="986.85" y="1234.85" width="9.10" height="9.10" fill="#fff" stroke="#000" stroke-width="3.20"/>
<rect x="1003.95" y="1237.35" width="13.50" height="13.50" fill="#fff"/>
<rect x="1006.15" y="1239.55" width="9.10" height="9.10" fill="#fff" stroke="#000" stroke-width="3.20"/>
<rect x="1023.25" y="1235.15" width="13.50" height="13.50" fill="#fff"/>
<rect x="1025.45" y="1237.35" width="9.10" height="9.10" fill="#fff" stroke="#000" stroke-width="3.20"/>
<rect x="1003.85" y="1249.75" width="13.50" height="13.50" fill="#fff"/>
<rect x="1006.05" y="1251.95" width="9.10" height="9.10" fill="#fff" stroke="#000" stroke-width="3.20"/>
<rect x="984.85" y="1269.65" width="13.50" height="13.50" fill="#fff"/>
<rect x="987.05" y="1271.85" width="9.10" height="9.10" fill="#fff" stroke="#000" stroke-width="3.20"/>
<rect x="1003.85" y="1266.55" width="13.50" height="13.50" fill="#fff"/>
<rect x="1006.05" y="1268.75" width="9.10" height="9.10" fill="#fff" stroke="#000" stroke-width="3.20"/>
<rect x="1003.85" y="1276.55" width="13.50" height="13.50" fill="#fff"/>
<rect x="1006.05" y="1278.75" width="9.10" height="9.10" fill="#fff" stroke="#000" stroke-width="3.20"/>
<rect x="1023.25" y="1271.15" width="13.50" height="13.50" fill="#fff"/>
<rect x="1025.45" y="1273.35" width="9.10" height="9.10" fill="#fff" stroke="#000" stroke-width="3.20"/>
<rect x="1023.25" y="1283.85" width="13.50" height="13.50" fill="#fff"/>
<rect x="1025.45" y="1286.05" width="9.10" height="9.10" fill="#fff" stroke="#000" stroke-width="3.20"/>
<rect x="984.85" y="1288.95" width="13.50" height="13.50" fill="#fff"/>
<rect x="987.05" y="1291.15" width="9.10" height="9.10" fill="#fff" stroke="#000" stroke-width="3.20"/>
<path d="M878.5 870.4 V850.8 H1010.7 V1022.7" fill="none" stroke="#000" stroke-width="3.00" stroke-linecap="butt" stroke-linejoin="miter"/>
<text style="font-family:'DejaVu Sans',sans-serif" stroke="#000" stroke-width="1.0" stroke-linejoin="round" x="934.94" y="848.19" font-size="40.27" textLength="19.82" lengthAdjust="spacingAndGlyphs" fill="#000">*</text>
<text x="757.62" y="843.75" font-size="25.85" textLength="27.91" lengthAdjust="spacingAndGlyphs" fill="#000">10</text>
<text x="771.40" y="963.75" font-size="25.85" textLength="13.97" lengthAdjust="spacingAndGlyphs" fill="#000">8</text>
<text x="771.26" y="1085.44" font-size="26.41" textLength="14.27" lengthAdjust="spacingAndGlyphs" fill="#000">6</text>
<text x="771.23" y="1204.00" font-size="26.74" textLength="13.50" lengthAdjust="spacingAndGlyphs" fill="#000">4</text>
<text x="771.00" y="1324.40" font-size="25.64" textLength="14.44" lengthAdjust="spacingAndGlyphs" fill="#000">2</text>
<text x="771.60" y="1444.54" font-size="26.13" textLength="14.03" lengthAdjust="spacingAndGlyphs" fill="#000">0</text>
<text x="848.63" y="1485.64" font-size="37.29" textLength="59.16" lengthAdjust="spacingAndGlyphs" fill="#000">RIS</text>
<text x="980.53" y="1485.64" font-size="37.29" textLength="59.88" lengthAdjust="spacingAndGlyphs" fill="#000">CIS</text>
<text x="721.68" y="1541.29" font-size="31.53" textLength="100.05" lengthAdjust="spacingAndGlyphs" fill="#000">Mean:</text>
<text x="841.89" y="1541.60" font-size="31.98" textLength="65.59" lengthAdjust="spacingAndGlyphs" fill="#000">4.47</text>
<text x="978.24" y="1541.25" font-size="31.01" textLength="64.28" lengthAdjust="spacingAndGlyphs" fill="#000">3.45</text>
<text x="691.46" y="831.80" font-size="61.92" textLength="49.98" lengthAdjust="spacingAndGlyphs" fill="#000">E.</text>
<text transform="rotate(-90)" x="-1342.87" y="740.30" font-size="37.00" textLength="415.55" lengthAdjust="spacingAndGlyphs" fill="#000">%VH4-34 gene frequency</text>
<line x1="1225.50" y1="828.60" x2="1225.50" y2="1437.40" stroke="#000" stroke-width="4.80" stroke-linecap="butt"/>
<line x1="1209.30" y1="831.00" x2="1225.50" y2="831.00" stroke="#000" stroke-width="4.80" stroke-linecap="butt"/>
<line x1="1209.30" y1="951.60" x2="1225.50" y2="951.60" stroke="#000" stroke-width="4.80" stroke-linecap="butt"/>
<line x1="1209.30" y1="1072.80" x2="1225.50" y2="1072.80" stroke="#000" stroke-width="4.80" stroke-linecap="butt"/>
<line x1="1209.30" y1="1193.60" x2="1225.50" y2="1193.60" stroke="#000" stroke-width="4.80" stroke-linecap="butt"/>
<line x1="1209.30" y1="1314.20" x2="1225.50" y2="1314.20" stroke="#000" stroke-width="4.80" stroke-linecap="butt"/>
<line x1="1209.30" y1="1435.00" x2="1514.40" y2="1435.00" stroke="#000" stroke-width="4.80" stroke-linecap="butt"/>
<line x1="1301.40" y1="1435.00" x2="1301.40" y2="1450.80" stroke="#000" stroke-width="4.40" stroke-linecap="butt"/>
<line x1="1438.00" y1="1435.00" x2="1438.00" y2="1450.80" stroke="#000" stroke-width="4.40" stroke-linecap="butt"/>
<rect x="1266.05" y="1145.85" width="71.00" height="289.15" fill="#cfcfcf" stroke="#000" stroke-width="4.30"/>
<rect x="1403.35" y="1216.85" width="70.30" height="218.15" fill="#808080" stroke="#000" stroke-width="4.30"/>
<line x1="1301.40" y1="1030.10" x2="1301.40" y2="1254.90" stroke="#111" stroke-width="1.80" stroke-linecap="butt"/>
<line x1="1281.60" y1="1030.10" x2="1321.20" y2="1030.10" stroke="#111" stroke-width="1.80" stroke-linecap="round"/>
<line x1="1281.60" y1="1254.90" x2="1321.20" y2="1254.90" stroke="#111" stroke-width="1.80" stroke-linecap="round"/>
<polygon points="1294.40,919.30 1303.80,928.70 1294.40,938.10 1285.00,928.70" fill="#000" stroke="#fff" stroke-width="1.6" paint-order="stroke"/>
<polygon points="1308.50,922.30 1317.90,931.70 1308.50,941.10 1299.10,931.70" fill="#000" stroke="#fff" stroke-width="1.6" paint-order="stroke"/>
<polygon points="1287.40,985.60 1296.80,995.00 1287.40,1004.40 1278.00,995.00" fill="#000" stroke="#fff" stroke-width="1.6" paint-order="stroke"/>
<polygon points="1315.60,1003.50 1325.00,1012.90 1315.60,1022.30 1306.20,1012.90" fill="#000" stroke="#fff" stroke-width="1.6" paint-order="stroke"/>
<polygon points="1287.40,1015.70 1296.80,1025.10 1287.40,1034.50 1278.00,1025.10" fill="#000" stroke="#fff" stroke-width="1.6" paint-order="stroke"/>
<polygon points="1301.40,1034.00 1310.80,1043.40 1301.40,1052.80 1292.00,1043.40" fill="#000" stroke="#fff" stroke-width="1.6" paint-order="stroke"/>
<polygon points="1315.60,1034.80 1325.00,1044.20 1315.60,1053.60 1306.20,1044.20" fill="#000" stroke="#fff" stroke-width="1.6" paint-order="stroke"/>
<polygon points="1287.40,1048.80 1296.80,1058.20 1287.40,1067.60 1278.00,1058.20" fill="#000" stroke="#fff" stroke-width="1.6" paint-order="stroke"/>
<polygon points="1301.40,1060.40 1310.80,1069.80 1301.40,1079.20 1292.00,1069.80" fill="#000" stroke="#fff" stroke-width="1.6" paint-order="stroke"/>
<polygon points="1287.40,1082.10 1296.80,1091.50 1287.40,1100.90 1278.00,1091.50" fill="#000" stroke="#fff" stroke-width="1.6" paint-order="stroke"/>
<polygon points="1301.40,1087.10 1310.80,1096.50 1301.40,1105.90 1292.00,1096.50" fill="#000" stroke="#fff" stroke-width="1.6" paint-order="stroke"/>
<polygon points="1315.60,1085.20 1325.00,1094.60 1315.60,1104.00 1306.20,1094.60" fill="#000" stroke="#fff" stroke-width="1.6" paint-order="stroke"/>
<polygon points="1315.60,1105.10 1325.00,1114.50 1315.60,1123.90 1306.20,1114.50" fill="#000" stroke="#fff" stroke-width="1.6" paint-order="stroke"/>
<polygon points="1301.40,1109.70 1310.80,1119.10 1301.40,1128.50 1292.00,1119.10" fill="#000" stroke="#fff" stroke-width="1.6" paint-order="stroke"/>
<polygon points="1287.40,1130.50 1296.80,1139.90 1287.40,1149.30 1278.00,1139.90" fill="#000" stroke="#fff" stroke-width="1.6" paint-order="stroke"/>
<polygon points="1315.70,1140.00 1325.10,1149.40 1315.70,1158.80 1306.30,1149.40" fill="#000" stroke="#fff" stroke-width="1.6" paint-order="stroke"/>
<polygon points="1301.40,1142.80 1310.80,1152.20 1301.40,1161.60 1292.00,1152.20" fill="#000" stroke="#fff" stroke-width="1.6" paint-order="stroke"/>
<polygon points="1273.20,1145.30 1282.60,1154.70 1273.20,1164.10 1263.80,1154.70" fill="#000" stroke="#fff" stroke-width="1.6" paint-order="stroke"/>
<polygon points="1329.70,1148.70 1339.10,1158.10 1329.70,1167.50 1320.30,1158.10" fill="#000" stroke="#fff" stroke-width="1.6" paint-order="stroke"/>
<polygon points="1287.40,1154.50 1296.80,1163.90 1287.40,1173.30 1278.00,1163.90" fill="#000" stroke="#fff" stroke-width="1.6" paint-order="stroke"/>
<polygon points="1301.40,1162.60 1310.80,1172.00 1301.40,1181.40 1292.00,1172.00" fill="#000" stroke="#fff" stroke-width="1.6" paint-order="stroke"/>
<polygon points="1287.40,1192.80 1296.80,1202.20 1287.40,1211.60 1278.00,1202.20" fill="#000" stroke="#fff" stroke-width="1.6" paint-order="stroke"/>
<polygon points="1301.80,1199.70 1311.20,1209.10 1301.80,1218.50 1292.40,1209.10" fill="#000" stroke="#fff" stroke-width="1.6" paint-order="stroke"/>
<polygon points="1287.40,1235.20 1296.80,1244.60 1287.40,1254.00 1278.00,1244.60" fill="#000" stroke="#fff" stroke-width="1.6" paint-order="stroke"/>
<polygon points="1301.80,1241.70 1311.20,1251.10 1301.80,1260.50 1292.40,1251.10" fill="#000" stroke="#fff" stroke-width="1.6" paint-order="stroke"/>
<polygon points="1315.60,1253.10 1325.00,1262.50 1315.60,1271.90 1306.20,1262.50" fill="#000" stroke="#fff" stroke-width="1.6" paint-order="stroke"/>
<polygon points="1287.40,1259.20 1296.80,1268.60 1287.40,1278.00 1278.00,1268.60" fill="#000" stroke="#fff" stroke-width="1.6" paint-order="stroke"/>
<polygon points="1294.40,1282.50 1303.80,1291.90 1294.40,1301.30 1285.00,1291.90" fill="#000" stroke="#fff" stroke-width="1.6" paint-order="stroke"/>
<polygon points="1308.50,1278.30 1317.90,1287.70 1308.50,1297.10 1299.10,1287.70" fill="#000" stroke="#fff" stroke-width="1.6" paint-order="stroke"/>
<polygon points="1301.50,1314.60 1310.90,1324.00 1301.50,1333.40 1292.10,1324.00" fill="#000" stroke="#fff" stroke-width="1.6" paint-order="stroke"/>
<polygon points="1301.50,1367.60 1310.90,1377.00 1301.50,1386.40 1292.10,1377.00" fill="#000" stroke="#fff" stroke-width="1.6" paint-order="stroke"/>
<line x1="1438.30" y1="1103.70" x2="1438.30" y2="1324.70" stroke="#111" stroke-width="1.80" stroke-linecap="butt"/>
<line x1="1419.00" y1="1103.70" x2="1457.60" y2="1103.70" stroke="#111" stroke-width="1.80" stroke-linecap="round"/>
<line x1="1419.00" y1="1324.70" x2="1457.60" y2="1324.70" stroke="#111" stroke-width="1.80" stroke-linecap="round"/>
<rect x="1431.55" y="1043.05" width="13.50" height="13.50" fill="#fff"/>
<rect x="1433.75" y="1045.25" width="9.10" height="9.10" fill="#fff" stroke="#000" stroke-width="3.20"/>
<rect x="1431.55" y="1056.65" width="13.50" height="13.50" fill="#fff"/>
<rect x="1433.75" y="1058.85" width="9.10" height="9.10" fill="#fff" stroke="#000" stroke-width="3.20"/>
<rect x="1431.55" y="1103.75" width="13.50" height="13.50" fill="#fff"/>
<rect x="1433.75" y="1105.95" width="9.10" height="9.10" fill="#fff" stroke="#000" stroke-width="3.20"/>
<rect x="1422.05" y="1118.55" width="13.50" height="13.50" fill="#fff"/>
<rect x="1424.25" y="1120.75" width="9.10" height="9.10" fill="#fff" stroke="#000" stroke-width="3.20"/>
<rect x="1441.35" y="1125.05" width="13.50" height="13.50" fill="#fff"/>
<rect x="1443.55" y="1127.25" width="9.10" height="9.10" fill="#fff" stroke="#000" stroke-width="3.20"/>
<rect x="1431.55" y="1151.85" width="13.50" height="13.50" fill="#fff"/>
<rect x="1433.75" y="1154.05" width="9.10" height="9.10" fill="#fff" stroke="#000" stroke-width="3.20"/>
<rect x="1431.55" y="1175.55" width="13.50" height="13.50" fill="#fff"/>
<rect x="1433.75" y="1177.75" width="9.10" height="9.10" fill="#fff" stroke="#000" stroke-width="3.20"/>
<rect x="1441.35" y="1195.75" width="13.50" height="13.50" fill="#fff"/>
<rect x="1443.55" y="1197.95" width="9.10" height="9.10" fill="#fff" stroke="#000" stroke-width="3.20"/>
<rect x="1422.05" y="1203.75" width="13.50" height="13.50" fill="#fff"/>
<rect x="1424.25" y="1205.95" width="9.10" height="9.10" fill="#fff" stroke="#000" stroke-width="3.20"/>
<rect x="1431.55" y="1235.85" width="13.50" height="13.50" fill="#fff"/>
<rect x="1433.75" y="1238.05" width="9.10" height="9.10" fill="#fff" stroke="#000" stroke-width="3.20"/>
<rect x="1431.55" y="1248.15" width="13.50" height="13.50" fill="#fff"/>
<rect x="1433.75" y="1250.35" width="9.10" height="9.10" fill="#fff" stroke="#000" stroke-width="3.20"/>
<rect x="1431.55" y="1262.65" width="13.50" height="13.50" fill="#fff"/>
<rect x="1433.75" y="1264.85" width="9.10" height="9.10" fill="#fff" stroke="#000" stroke-width="3.20"/>
<rect x="1422.05" y="1284.75" width="13.50" height="13.50" fill="#fff"/>
<rect x="1424.25" y="1286.95" width="9.10" height="9.10" fill="#fff" stroke="#000" stroke-width="3.20"/>
<rect x="1441.35" y="1281.35" width="13.50" height="13.50" fill="#fff"/>
<rect x="1443.55" y="1283.55" width="9.10" height="9.10" fill="#fff" stroke="#000" stroke-width="3.20"/>
<rect x="1422.25" y="1418.85" width="13.50" height="13.50" fill="#fff"/>
<rect x="1424.45" y="1421.05" width="9.10" height="9.10" fill="#fff" stroke="#000" stroke-width="3.20"/>
<rect x="1441.25" y="1412.65" width="13.50" height="13.50" fill="#fff"/>
<rect x="1443.45" y="1414.85" width="9.10" height="9.10" fill="#fff" stroke="#000" stroke-width="3.20"/>
<path d="M1301.4 910 V890.6 H1438.2 V1029.9" fill="none" stroke="#000" stroke-width="3.00" stroke-linecap="butt" stroke-linejoin="miter"/>
<text style="font-family:'DejaVu Sans',sans-serif" stroke="#000" stroke-width="1.0" stroke-linejoin="round" x="1359.64" y="888.37" font-size="40.92" textLength="19.93" lengthAdjust="spacingAndGlyphs" fill="#000">*</text>
<text x="1178.03" y="839.95" font-size="25.99" textLength="27.80" lengthAdjust="spacingAndGlyphs" fill="#000">10</text>
<text x="1191.39" y="960.55" font-size="25.99" textLength="14.20" lengthAdjust="spacingAndGlyphs" fill="#000">8</text>
<text x="1191.25" y="1082.34" font-size="26.27" textLength="14.50" lengthAdjust="spacingAndGlyphs" fill="#000">6</text>
<text x="1191.23" y="1202.90" font-size="26.74" textLength="13.71" lengthAdjust="spacingAndGlyphs" fill="#000">4</text>
<text x="1191.29" y="1322.40" font-size="26.35" textLength="14.56" lengthAdjust="spacingAndGlyphs" fill="#000">2</text>
<text x="1191.59" y="1444.35" font-size="25.99" textLength="14.27" lengthAdjust="spacingAndGlyphs" fill="#000">0</text>
<text x="1271.18" y="1485.64" font-size="37.29" textLength="60.23" lengthAdjust="spacingAndGlyphs" fill="#000">RIS</text>
<text x="1408.13" y="1485.64" font-size="37.29" textLength="59.88" lengthAdjust="spacingAndGlyphs" fill="#000">CIS</text>
<text x="1146.08" y="1541.29" font-size="31.53" textLength="100.26" lengthAdjust="spacingAndGlyphs" fill="#000">Mean:</text>
<text x="1266.10" y="1541.30" font-size="31.07" textLength="63.67" lengthAdjust="spacingAndGlyphs" fill="#000">4.84</text>
<text x="1403.62" y="1541.25" font-size="31.01" textLength="65.86" lengthAdjust="spacingAndGlyphs" fill="#000">3.67</text>
<text x="1125.42" y="831.80" font-size="61.92" textLength="40.96" lengthAdjust="spacingAndGlyphs" fill="#000">F.</text>
<text transform="rotate(-90)" x="-1340.87" y="1167.10" font-size="37.00" textLength="417.96" lengthAdjust="spacingAndGlyphs" fill="#000">%VH4-39 gene frequency</text>
<line x1="1656.50" y1="828.40" x2="1656.50" y2="1437.80" stroke="#000" stroke-width="5.60" stroke-linecap="butt"/>
<line x1="1639.20" y1="831.20" x2="1656.50" y2="831.20" stroke="#000" stroke-width="5.60" stroke-linecap="butt"/>
<line x1="1639.20" y1="1032.20" x2="1656.50" y2="1032.20" stroke="#000" stroke-width="5.60" stroke-linecap="butt"/>
<line x1="1639.20" y1="1233.60" x2="1656.50" y2="1233.60" stroke="#000" stroke-width="5.60" stroke-linecap="butt"/>
<line x1="1639.20" y1="1435.00" x2="1938.00" y2="1435.00" stroke="#000" stroke-width="5.60" stroke-linecap="butt"/>
<line x1="1731.00" y1="1435.00" x2="1731.00" y2="1450.80" stroke="#000" stroke-width="4.40" stroke-linecap="butt"/>
<line x1="1864.40" y1="1435.00" x2="1864.40" y2="1450.80" stroke="#000" stroke-width="4.40" stroke-linecap="butt"/>
<rect x="1696.45" y="1199.15" width="68.90" height="235.85" fill="#cfcfcf" stroke="#000" stroke-width="4.50"/>
<rect x="1830.45" y="1245.45" width="68.30" height="189.55" fill="#808080" stroke="#000" stroke-width="4.50"/>
<line x1="1731.00" y1="1118.30" x2="1731.00" y2="1275.80" stroke="#111" stroke-width="1.80" stroke-linecap="butt"/>
<line x1="1712.10" y1="1118.30" x2="1749.90" y2="1118.30" stroke="#111" stroke-width="1.80" stroke-linecap="round"/>
<line x1="1712.10" y1="1275.80" x2="1749.90" y2="1275.80" stroke="#111" stroke-width="1.80" stroke-linecap="round"/>
<polygon points="1731.00,940.80 1738.70,948.50 1731.00,956.20 1723.30,948.50" fill="#000" stroke="#fff" stroke-width="1.6" paint-order="stroke"/>
<polygon points="1731.00,1021.50 1738.70,1029.20 1731.00,1036.90 1723.30,1029.20" fill="#000" stroke="#fff" stroke-width="1.6" paint-order="stroke"/>
<polygon points="1721.40,1107.70 1729.10,1115.40 1721.40,1123.10 1713.70,1115.40" fill="#000" stroke="#fff" stroke-width="1.6" paint-order="stroke"/>
<polygon points="1731.00,1107.70 1738.70,1115.40 1731.00,1123.10 1723.30,1115.40" fill="#000" stroke="#fff" stroke-width="1.6" paint-order="stroke"/>
<polygon points="1721.40,1129.70 1729.10,1137.40 1721.40,1145.10 1713.70,1137.40" fill="#000" stroke="#fff" stroke-width="1.6" paint-order="stroke"/>
<polygon points="1731.00,1126.80 1738.70,1134.50 1731.00,1142.20 1723.30,1134.50" fill="#000" stroke="#fff" stroke-width="1.6" paint-order="stroke"/>
<polygon points="1740.60,1130.00 1748.30,1137.70 1740.60,1145.40 1732.90,1137.70" fill="#000" stroke="#fff" stroke-width="1.6" paint-order="stroke"/>
<polygon points="1750.40,1123.00 1758.10,1130.70 1750.40,1138.40 1742.70,1130.70" fill="#000" stroke="#fff" stroke-width="1.6" paint-order="stroke"/>
<polygon points="1721.40,1161.80 1729.10,1169.50 1721.40,1177.20 1713.70,1169.50" fill="#000" stroke="#fff" stroke-width="1.6" paint-order="stroke"/>
<polygon points="1731.00,1172.50 1738.70,1180.20 1731.00,1187.90 1723.30,1180.20" fill="#000" stroke="#fff" stroke-width="1.6" paint-order="stroke"/>
<polygon points="1740.60,1174.60 1748.30,1182.30 1740.60,1190.00 1732.90,1182.30" fill="#000" stroke="#fff" stroke-width="1.6" paint-order="stroke"/>
<polygon points="1721.50,1186.80 1729.20,1194.50 1721.50,1202.20 1713.80,1194.50" fill="#000" stroke="#fff" stroke-width="1.6" paint-order="stroke"/>
<polygon points="1701.90,1195.20 1709.60,1202.90 1701.90,1210.60 1694.20,1202.90" fill="#000" stroke="#fff" stroke-width="1.6" paint-order="stroke"/>
<polygon points="1711.60,1195.90 1719.30,1203.60 1711.60,1211.30 1703.90,1203.60" fill="#000" stroke="#fff" stroke-width="1.6" paint-order="stroke"/>
<polygon points="1731.00,1193.30 1738.70,1201.00 1731.00,1208.70 1723.30,1201.00" fill="#000" stroke="#fff" stroke-width="1.6" paint-order="stroke"/>
<polygon points="1740.60,1201.00 1748.30,1208.70 1740.60,1216.40 1732.90,1208.70" fill="#000" stroke="#fff" stroke-width="1.6" paint-order="stroke"/>
<polygon points="1750.30,1197.40 1758.00,1205.10 1750.30,1212.80 1742.60,1205.10" fill="#000" stroke="#fff" stroke-width="1.6" paint-order="stroke"/>
<polygon points="1760.00,1194.70 1767.70,1202.40 1760.00,1210.10 1752.30,1202.40" fill="#000" stroke="#fff" stroke-width="1.6" paint-order="stroke"/>
<polygon points="1721.50,1209.80 1729.20,1217.50 1721.50,1225.20 1713.80,1217.50" fill="#000" stroke="#fff" stroke-width="1.6" paint-order="stroke"/>
<polygon points="1731.00,1208.30 1738.70,1216.00 1731.00,1223.70 1723.30,1216.00" fill="#000" stroke="#fff" stroke-width="1.6" paint-order="stroke"/>
<polygon points="1740.70,1224.60 1748.40,1232.30 1740.70,1240.00 1733.00,1232.30" fill="#000" stroke="#fff" stroke-width="1.6" paint-order="stroke"/>
<polygon points="1721.40,1232.90 1729.10,1240.60 1721.40,1248.30 1713.70,1240.60" fill="#000" stroke="#fff" stroke-width="1.6" paint-order="stroke"/>
<polygon points="1731.00,1231.80 1738.70,1239.50 1731.00,1247.20 1723.30,1239.50" fill="#000" stroke="#fff" stroke-width="1.6" paint-order="stroke"/>
<polygon points="1740.70,1253.20 1748.40,1260.90 1740.70,1268.60 1733.00,1260.90" fill="#000" stroke="#fff" stroke-width="1.6" paint-order="stroke"/>
<polygon points="1721.40,1256.70 1729.10,1264.40 1721.40,1272.10 1713.70,1264.40" fill="#000" stroke="#fff" stroke-width="1.6" paint-order="stroke"/>
<polygon points="1711.80,1267.50 1719.50,1275.20 1711.80,1282.90 1704.10,1275.20" fill="#000" stroke="#fff" stroke-width="1.6" paint-order="stroke"/>
<polygon points="1731.00,1266.70 1738.70,1274.40 1731.00,1282.10 1723.30,1274.40" fill="#000" stroke="#fff" stroke-width="1.6" paint-order="stroke"/>
<polygon points="1740.70,1272.40 1748.40,1280.10 1740.70,1287.80 1733.00,1280.10" fill="#000" stroke="#fff" stroke-width="1.6" paint-order="stroke"/>
<polygon points="1731.00,1283.20 1738.70,1290.90 1731.00,1298.60 1723.30,1290.90" fill="#000" stroke="#fff" stroke-width="1.6" paint-order="stroke"/>
<polygon points="1740.60,1296.20 1748.30,1303.90 1740.60,1311.60 1732.90,1303.90" fill="#000" stroke="#fff" stroke-width="1.6" paint-order="stroke"/>
<polygon points="1721.50,1302.20 1729.20,1309.90 1721.50,1317.60 1713.80,1309.90" fill="#000" stroke="#fff" stroke-width="1.6" paint-order="stroke"/>
<line x1="1864.50" y1="1181.10" x2="1864.50" y2="1303.40" stroke="#111" stroke-width="1.80" stroke-linecap="butt"/>
<line x1="1845.50" y1="1181.10" x2="1883.50" y2="1181.10" stroke="#111" stroke-width="1.80" stroke-linecap="round"/>
<line x1="1845.50" y1="1303.40" x2="1883.50" y2="1303.40" stroke="#111" stroke-width="1.80" stroke-linecap="round"/>
<rect x="1846.90" y="1108.30" width="13.80" height="13.80" fill="#fff"/>
<rect x="1849.10" y="1110.50" width="9.40" height="9.40" fill="#fff" stroke="#000" stroke-width="3.20"/>
<rect x="1868.50" y="1111.10" width="13.80" height="13.80" fill="#fff"/>
<rect x="1870.70" y="1113.30" width="9.40" height="9.40" fill="#fff" stroke="#000" stroke-width="3.20"/>
<rect x="1857.70" y="1177.70" width="13.80" height="13.80" fill="#fff"/>
<rect x="1859.90" y="1179.90" width="9.40" height="9.40" fill="#fff" stroke="#000" stroke-width="3.20"/>
<rect x="1846.90" y="1214.30" width="13.80" height="13.80" fill="#fff"/>
<rect x="1849.10" y="1216.50" width="9.40" height="9.40" fill="#fff" stroke="#000" stroke-width="3.20"/>
<rect x="1868.20" y="1213.70" width="13.80" height="13.80" fill="#fff"/>
<rect x="1870.40" y="1215.90" width="9.40" height="9.40" fill="#fff" stroke="#000" stroke-width="3.20"/>
<rect x="1846.90" y="1234.70" width="13.80" height="13.80" fill="#fff"/>
<rect x="1849.10" y="1236.90" width="9.40" height="9.40" fill="#fff" stroke="#000" stroke-width="3.20"/>
<rect x="1868.20" y="1232.10" width="13.80" height="13.80" fill="#fff"/>
<rect x="1870.40" y="1234.30" width="9.40" height="9.40" fill="#fff" stroke="#000" stroke-width="3.20"/>
<rect x="1868.20" y="1242.60" width="13.80" height="13.80" fill="#fff"/>
<rect x="1870.40" y="1244.80" width="9.40" height="9.40" fill="#fff" stroke="#000" stroke-width="3.20"/>
<rect x="1846.90" y="1247.10" width="13.80" height="13.80" fill="#fff"/>
<rect x="1849.10" y="1249.30" width="9.40" height="9.40" fill="#fff" stroke="#000" stroke-width="3.20"/>
<rect x="1868.20" y="1259.80" width="13.80" height="13.80" fill="#fff"/>
<rect x="1870.40" y="1262.00" width="9.40" height="9.40" fill="#fff" stroke="#000" stroke-width="3.20"/>
<rect x="1825.30" y="1274.30" width="13.80" height="13.80" fill="#fff"/>
<rect x="1827.50" y="1276.50" width="9.40" height="9.40" fill="#fff" stroke="#000" stroke-width="3.20"/>
<rect x="1846.90" y="1268.20" width="13.80" height="13.80" fill="#fff"/>
<rect x="1849.10" y="1270.40" width="9.40" height="9.40" fill="#fff" stroke="#000" stroke-width="3.20"/>
<rect x="1846.90" y="1280.60" width="13.80" height="13.80" fill="#fff"/>
<rect x="1849.10" y="1282.80" width="9.40" height="9.40" fill="#fff" stroke="#000" stroke-width="3.20"/>
<rect x="1889.50" y="1275.90" width="13.80" height="13.80" fill="#fff"/>
<rect x="1891.70" y="1278.10" width="9.40" height="9.40" fill="#fff" stroke="#000" stroke-width="3.20"/>
<rect x="1868.20" y="1283.20" width="13.80" height="13.80" fill="#fff"/>
<rect x="1870.40" y="1285.40" width="9.40" height="9.40" fill="#fff" stroke="#000" stroke-width="3.20"/>
<rect x="1857.40" y="1339.20" width="13.80" height="13.80" fill="#fff"/>
<rect x="1859.60" y="1341.40" width="9.40" height="9.40" fill="#fff" stroke="#000" stroke-width="3.20"/>
<path d="M1731 930.1 V910.3 H1864.3 V1097.4" fill="none" stroke="#000" stroke-width="3.00" stroke-linecap="butt" stroke-linejoin="miter"/>
<text style="font-family:'DejaVu Sans',sans-serif" stroke="#000" stroke-width="1.0" stroke-linejoin="round" x="1787.94" y="908.81" font-size="40.70" textLength="19.93" lengthAdjust="spacingAndGlyphs" fill="#000">*</text>
<text x="1608.02" y="840.14" font-size="26.37" textLength="27.88" lengthAdjust="spacingAndGlyphs" fill="#000">15</text>
<text x="1608.02" y="1041.73" font-size="27.40" textLength="27.91" lengthAdjust="spacingAndGlyphs" fill="#000">10</text>
<text x="1621.63" y="1242.74" font-size="26.66" textLength="13.97" lengthAdjust="spacingAndGlyphs" fill="#000">5</text>
<text x="1621.77" y="1444.15" font-size="25.99" textLength="14.50" lengthAdjust="spacingAndGlyphs" fill="#000">0</text>
<text x="1701.23" y="1485.64" font-size="37.29" textLength="59.16" lengthAdjust="spacingAndGlyphs" fill="#000">RIS</text>
<text x="1834.13" y="1485.64" font-size="37.29" textLength="59.67" lengthAdjust="spacingAndGlyphs" fill="#000">CIS</text>
<text x="1575.68" y="1541.29" font-size="31.53" textLength="100.05" lengthAdjust="spacingAndGlyphs" fill="#000">Mean:</text>
<text x="1706.58" y="1541.30" font-size="31.07" textLength="64.76" lengthAdjust="spacingAndGlyphs" fill="#000">5.92</text>
<text x="1832.24" y="1541.25" font-size="31.01" textLength="64.21" lengthAdjust="spacingAndGlyphs" fill="#000">3.67</text>
<text x="1538.86" y="844.42" font-size="59.32" textLength="55.14" lengthAdjust="spacingAndGlyphs" fill="#000">G.</text>
<text transform="rotate(-90)" x="-1342.17" y="1590.20" font-size="37.00" textLength="418.06" lengthAdjust="spacingAndGlyphs" fill="#000">%VH4-59 gene frequency</text>
</svg>
</body></html>
